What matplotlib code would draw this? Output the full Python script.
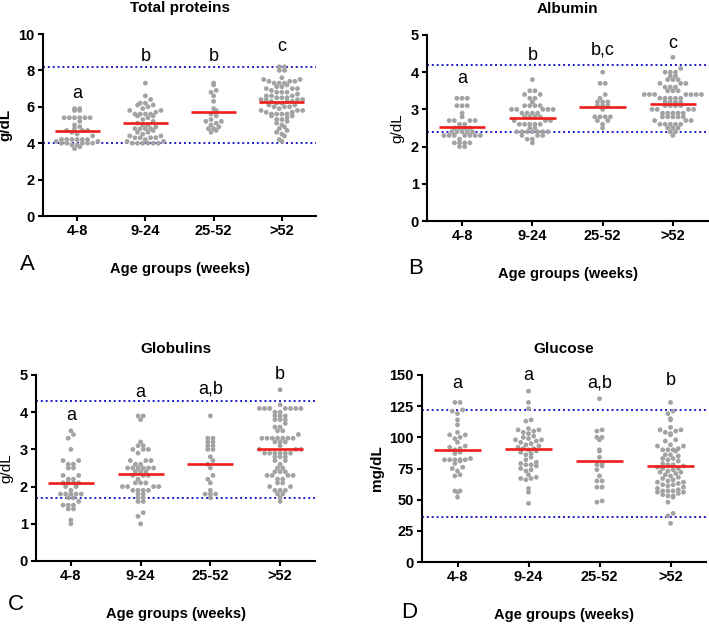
import numpy as np
import matplotlib.pyplot as plt

plt.rcParams['font.family'] = ['Liberation Sans', 'DejaVu Sans']

groups = ['4-8', '9-24', '25-52', '>52']

# Total proteins (g/dL)
tp_g1 = [5.9, 5.9, 5.8, 5.8, 5.4, 5.4, 5.4, 5.4, 5.4, 5.4, 5.2, 5.0, 4.9, 4.8, 4.7, 4.7, 4.7, 4.6, 4.5,
         4.4, 4.2, 4.2, 4.2, 4.2, 4.2, 4.2, 4.1, 4.1, 4.0, 4.0, 4.0, 4.0, 4.0, 3.9, 3.9, 3.8, 3.7]
tp_g2 = [7.3, 6.6, 6.4, 6.2, 6.2, 6.1, 6.1, 6.0, 5.9, 5.8, 5.8, 5.7, 5.6, 5.6, 5.6, 5.6, 5.5, 5.5, 5.4,
         5.3, 5.2, 5.1, 5.0, 5.0, 4.9, 4.8, 4.8, 4.8, 4.8, 4.7, 4.6, 4.6, 4.5, 4.4, 4.4, 4.3, 4.3, 4.3,
         4.3, 4.2, 4.1, 4.1, 4.0, 4.0, 4.0, 4.0, 4.0, 4.0]
tp_g3 = [7.3, 7.2, 6.9, 6.8, 6.6, 6.3, 5.9, 5.8, 5.6, 5.5, 5.3, 5.2, 5.2, 5.1, 5.0, 4.9, 4.8, 4.8, 4.7, 4.6]
tp_g4 = [8.2, 8.2, 8.0, 8.0, 7.6, 7.5, 7.5, 7.4, 7.4, 7.4, 7.3, 7.3, 7.3, 7.2, 7.1, 7.1, 7.0, 7.0, 7.0,
         6.9, 6.8, 6.8, 6.8, 6.7, 6.6, 6.6, 6.6, 6.5, 6.5, 6.5, 6.4, 6.4, 6.4, 6.4, 6.3, 6.3, 6.3, 6.2,
         6.2, 6.1, 6.1, 6.0, 6.0, 6.0, 5.9, 5.8, 5.8, 5.8, 5.7, 5.7, 5.6, 5.6, 5.6, 5.6, 5.5, 5.5, 5.4,
         5.3, 5.3, 5.2, 5.1, 5.0, 4.9, 4.8, 4.7, 4.6, 4.5, 4.4, 4.2, 4.1]
tp_center = [4.65, 5.09, 5.71, 6.26]
tp_ref = [4.0, 8.2]
tp_letters = ['a', 'b', 'b', 'c']
tp_letter_y = [6.75, 8.75, 8.75, 9.3]

# Albumin (g/dL)
alb_g1 = [3.3, 3.3, 3.3, 3.1, 3.1, 3.1, 2.9, 2.8, 2.7, 2.7, 2.7, 2.7, 2.6, 2.6, 2.5, 2.5, 2.5, 2.5, 2.4,
          2.4, 2.4, 2.4, 2.4, 2.3, 2.3, 2.3, 2.3, 2.3, 2.3, 2.3, 2.2, 2.1, 2.1, 2.1, 2.1, 2.0, 2.0]
alb_g2 = [3.8, 3.5, 3.5, 3.4, 3.4, 3.3, 3.3, 3.2, 3.1, 3.1, 3.1, 3.1, 3.0, 3.0, 3.0, 3.0, 3.0, 2.9, 2.9,
          2.9, 2.9, 2.8, 2.8, 2.8, 2.8, 2.7, 2.7, 2.7, 2.6, 2.6, 2.6, 2.6, 2.6, 2.5, 2.5, 2.4, 2.4, 2.4,
          2.4, 2.4, 2.4, 2.4, 2.3, 2.3, 2.3, 2.2, 2.2, 2.1]
alb_g3 = [4.0, 3.7, 3.7, 3.4, 3.3, 3.2, 3.2, 3.2, 3.1, 3.1, 3.1, 3.0, 2.8, 2.8, 2.8, 2.8, 2.7, 2.7, 2.6, 2.5]
alb_g4 = [4.4, 4.1, 4.0, 4.0, 4.0, 3.9, 3.9, 3.8, 3.8, 3.8, 3.7, 3.7, 3.7, 3.6, 3.6, 3.6, 3.5, 3.5, 3.5,
          3.4, 3.4, 3.4, 3.4, 3.4, 3.4, 3.4, 3.3, 3.3, 3.3, 3.3, 3.3, 3.2, 3.2, 3.2, 3.2, 3.1, 3.1, 3.1,
          3.1, 3.0, 3.0, 3.0, 3.0, 2.9, 2.9, 2.9, 2.9, 2.9, 2.8, 2.8, 2.8, 2.8, 2.8, 2.7, 2.7, 2.7, 2.6,
          2.6, 2.6, 2.6, 2.6, 2.5, 2.5, 2.5, 2.4, 2.4, 2.3]
alb_center = [2.53, 2.77, 3.07, 3.15]
alb_ref = [2.4, 4.2]
alb_letters = ['a', 'b', 'b,c', 'c']
alb_letter_y = [3.83, 4.45, 4.6, 4.78]

# Globulins (g/dL)
glob_g1 = [3.5, 3.4, 3.3, 3.0, 2.7, 2.7, 2.6, 2.6, 2.5, 2.5, 2.3, 2.3, 2.2, 2.2, 2.1, 2.1, 2.1, 2.1, 2.0,
           2.0, 1.9, 1.8, 1.8, 1.8, 1.8, 1.8, 1.7, 1.7, 1.6, 1.5, 1.5, 1.5, 1.4, 1.4, 1.1, 1.0]
glob_g2 = [3.9, 3.9, 3.8, 3.2, 3.1, 3.1, 3.0, 3.0, 3.0, 2.9, 2.7, 2.7, 2.7, 2.6, 2.6, 2.5, 2.5, 2.5, 2.5,
           2.5, 2.5, 2.4, 2.4, 2.4, 2.3, 2.3, 2.3, 2.2, 2.1, 2.1, 2.1, 2.0, 2.0, 2.0, 2.0, 1.9, 1.9, 1.9,
           1.9, 1.8, 1.8, 1.7, 1.7, 1.6, 1.6, 1.3, 1.2, 1.0]
glob_g3 = [3.9, 3.3, 3.3, 3.2, 3.2, 3.1, 3.1, 3.0, 3.0, 2.8, 2.7, 2.6, 2.5, 2.3, 2.2, 2.1, 1.9, 1.8, 1.8,
           1.8, 1.7]
glob_g4 = [4.6, 4.2, 4.1, 4.1, 4.1, 4.1, 4.1, 4.1, 4.1, 4.0, 4.0, 3.9, 3.9, 3.9, 3.8, 3.8, 3.8, 3.7, 3.6,
           3.6, 3.5, 3.5, 3.4, 3.3, 3.3, 3.3, 3.3, 3.3, 3.3, 3.3, 3.2, 3.2, 3.2, 3.1, 3.0, 3.0, 3.0, 2.9,
           2.9, 2.9, 2.9, 2.9, 2.9, 2.8, 2.8, 2.8, 2.7, 2.7, 2.6, 2.5, 2.5, 2.4, 2.4, 2.4, 2.3, 2.3, 2.3,
           2.3, 2.2, 2.2, 2.1, 2.1, 2.0, 2.0, 1.9, 1.9, 1.9, 1.8, 1.8, 1.7, 1.6]
glob_center = [2.11, 2.34, 2.61, 3.01]
glob_ref = [1.7, 4.3]
glob_letters = ['a', 'a', 'a,b', 'b']
glob_letter_y = [3.92, 4.52, 4.62, 5.02]

# Glucose (mg/dL)
glu_g1 = [128, 128, 122, 121, 119, 114, 110, 104, 102, 102, 100, 99, 96, 93, 92, 91, 90, 88, 87, 83, 82,
          82, 82, 82, 82, 81, 79, 76, 75, 73, 70, 69, 57, 57, 56, 52]
glu_g2 = [137, 128, 123, 114, 113, 107, 106, 106, 105, 104, 103, 101, 100, 99, 98, 98, 97, 96, 95, 94, 93,
          92, 91, 91, 90, 89, 88, 87, 86, 84, 82, 80, 79, 78, 78, 77, 75, 74, 73, 70, 68, 67, 67, 66, 59,
          56, 47]
glu_g3 = [131, 106, 105, 100, 100, 98, 90, 89, 84, 79, 78, 77, 74, 69, 65, 65, 60, 60, 49, 48]
glu_g4 = [128, 121, 119, 115, 114, 108, 106, 106, 105, 104, 103, 102, 98, 97, 94, 93, 93, 91, 90, 90, 90,
          89, 86, 86, 85, 83, 83, 82, 81, 79, 78, 78, 77, 76, 75, 75, 74, 73, 72, 72, 71, 70, 69, 68, 67,
          66, 65, 64, 64, 63, 62, 62, 61, 60, 59, 58, 57, 57, 57, 56, 56, 55, 54, 53, 53, 52, 48, 39, 37,
          31]
glu_center = [89.7, 90.7, 80.8, 76.9]
glu_ref = [36, 122]
glu_letters = ['a', 'a', 'a,b', 'b']
glu_letter_y = [142.8, 150, 143.6, 145.5]

FIG_W, FIG_H = 709, 624
DOT_GAP = 5.2  # px between dot centres


def row_offsets(vals, xscale, yscale, d):
    """GraphPad-like scatter: values falling in the same d-px band share a row"""
    ys = np.asarray(vals, float) * yscale
    rows = np.floor(ys / d + 0.5).astype(int)
    xs = np.zeros(len(ys))
    for r in np.unique(rows):
        idx = np.where(rows == r)[0]
        idx = idx[np.argsort(ys[idx])]
        n = len(idx)
        # fill from the middle outwards so the row stays centred
        slots = (np.arange(n) - (n - 1) / 2.0) * d
        order = np.argsort(np.abs(slots), kind='stable')
        xs[idx] = slots[order]
    return xs / xscale


def panel(rect, data, center, ref, letters, letter_y, ymax, yticks, title, ylabel, ylabel_bold):
    ax = fig.add_axes(rect)
    xscale = rect[2] * FIG_W / 4.0
    yscale = rect[3] * FIG_H / ymax
    for i, vals in enumerate(data):
        off = row_offsets(vals, xscale, yscale, DOT_GAP)
        ax.scatter(i + off, vals, s=12, color='#a3a3a3', edgecolors='none', zorder=2, clip_on=False)
        ax.hlines(center[i], i - 0.33, i + 0.33, color='#f21c1c', lw=1.9, zorder=3)
        ax.text(i, letter_y[i], letters[i], ha='center', va='center', fontsize=13)
    for r in ref:
        ax.axhline(r, color='#1c1ccc', lw=1.4, ls=(0, (1, 1.5)), zorder=1)
    ax.set_xlim(-0.5, 3.5)
    ax.set_ylim(0, ymax)
    ax.set_yticks(yticks)
    ax.set_xticks(range(4))
    ax.set_xticklabels(groups)
    for s in ['top', 'right']:
        ax.spines[s].set_visible(False)
    for s in ['left', 'bottom']:
        ax.spines[s].set_linewidth(1.5)
    ax.tick_params(width=1.5, length=3.5, labelsize=10.5, pad=2.5)
    for lab in ax.get_xticklabels() + ax.get_yticklabels():
        lab.set_fontweight('bold')
    ax.set_title(title, fontsize=11, fontweight='bold', pad=16)
    ax.set_ylabel(ylabel, fontsize=11, fontweight='bold' if ylabel_bold else 'normal', labelpad=4)
    ax.set_xlabel('Age groups (weeks)', fontsize=10.5, fontweight='bold', labelpad=17)
    return ax


def rect_px(left, right, top, bottom):
    return [left / FIG_W, 1 - bottom / FIG_H, (right - left) / FIG_W, (bottom - top) / FIG_H]


fig = plt.figure(figsize=(FIG_W / 100, FIG_H / 100), dpi=100)

panel(rect_px(43, 316, 34, 216), [tp_g1, tp_g2, tp_g3, tp_g4], tp_center, tp_ref,
      tp_letters, tp_letter_y, 10, [0, 2, 4, 6, 8, 10], 'Total proteins', 'g/dL', True)
panel(rect_px(427, 708, 35, 221), [alb_g1, alb_g2, alb_g3, alb_g4], alb_center, alb_ref,
      alb_letters, alb_letter_y, 5, [0, 1, 2, 3, 4, 5], 'Albumin', 'g/dL', False)
panel(rect_px(36, 315, 375, 561), [glob_g1, glob_g2, glob_g3, glob_g4], glob_center, glob_ref,
      glob_letters, glob_letter_y, 5, [0, 1, 2, 3, 4, 5], 'Globulins', 'g/dL', False)
panel(rect_px(422, 706, 375, 562), [glu_g1, glu_g2, glu_g3, glu_g4], glu_center, glu_ref,
      glu_letters, glu_letter_y, 150, [0, 25, 50, 75, 100, 125, 150], 'Glucose', 'mg/dL', True)

for lbl, x, y in [('A', 27, 265), ('B', 416, 268), ('C', 16, 605), ('D', 409, 612)]:
    fig.text(x / FIG_W, 1 - y / FIG_H, lbl, fontsize=16, ha='center', va='center')

fig.savefig('out.png', dpi=100)
